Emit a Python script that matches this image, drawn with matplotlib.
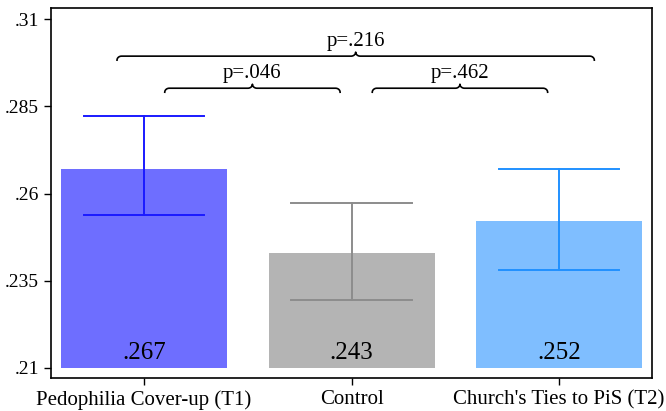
import numpy as np
import matplotlib.pyplot as plt

plt.rcParams["font.family"] = ["Liberation Serif", "DejaVu Serif"]

categories = ["Pedophilia Cover-up (T1)", "Control", "Church's Ties to PiS (T2)"]
means = [0.267, 0.243, 0.252]
ci_low = [0.2537, 0.2295, 0.2382]
ci_high = [0.2821, 0.2574, 0.2669]
value_labels = [".267", ".243", ".252"]

bar_colors = ["#6e6eff", "#b4b4b4", "#7fbeff"]
err_colors = ["#1a1aff", "#8c8c8c", "#2090ff"]

# pairwise comparisons: left group, right group, p label, bracket level
comp_left = [0, 1, 0]
comp_right = [1, 2, 2]
comp_labels = ["p=.046", "p=.462", "p=.216"]
comp_levels = [0.2902, 0.2902, 0.2994]

yticks = [0.21, 0.235, 0.26, 0.285, 0.31]
ytick_labels = [".21", ".235", ".26", ".285", ".31"]
base = 0.21


def draw_brace(ax, x0, x1, y, h=0.00115, r=0.022, color="black"):
    xm = (x0 + x1) / 2
    t = np.linspace(0, np.pi / 2, 12)
    lx = x0 + r - r * np.cos(t)
    ly = y - h + h * np.sin(t)
    c1x = xm - r + r * np.sin(t)
    c1y = y + h - h * np.cos(t)
    c2x = xm + r - r * np.cos(t)
    c2y = y + h - h * np.sin(t)
    rx = x1 - r + r * np.sin(t)
    ry = y - h + h * np.cos(t)
    xs = np.concatenate([lx, c1x, c2x, rx])
    ys = np.concatenate([ly, c1y, c2y, ry])
    ax.plot(xs, ys, color=color, lw=1.2)


fig = plt.figure(figsize=(6.66, 4.11), dpi=100)
ax = fig.add_axes([0.0766, 0.0803, 0.9024, 0.9002])

x = np.arange(len(categories))
ax.bar(x, np.array(means) - base, bottom=base, width=0.8, color=bar_colors, zorder=1)

for i in range(len(categories)):
    ax.plot([x[i], x[i]], [ci_low[i], ci_high[i]], color=err_colors[i], lw=1.4, zorder=2)
    for yv in (ci_low[i], ci_high[i]):
        ax.plot([x[i] - 0.29, x[i] + 0.29], [yv, yv], color=err_colors[i], lw=1.4, zorder=2)
    ax.text(x[i], base + 0.0012, value_labels[i], ha="center", va="bottom", fontsize=18, zorder=3)

for a, b, lab, lev in zip(comp_left, comp_right, comp_labels, comp_levels):
    if b - a == 1:
        x0, x1 = x[a] + 0.1, x[b] - 0.055
    else:
        x0, x1 = x[a] - 0.13, x[b] + 0.17
    draw_brace(ax, x0, x1, lev)
    ax.text((x0 + x1) / 2, lev + 0.0016, lab, ha="center", va="bottom", fontsize=15)

ax.set_xlim(-0.448, 2.448)
ax.set_ylim(0.2071, 0.3132)
ax.set_xticks(x)
ax.set_xticklabels(categories, fontsize=15)
ax.set_yticks(yticks)
ax.set_yticklabels(ytick_labels, fontsize=14)
ax.tick_params(axis="both", direction="out", length=5, width=1, color="black")
for s in ax.spines.values():
    s.set_linewidth(1.2)

fig.savefig("out.png", dpi=100)
